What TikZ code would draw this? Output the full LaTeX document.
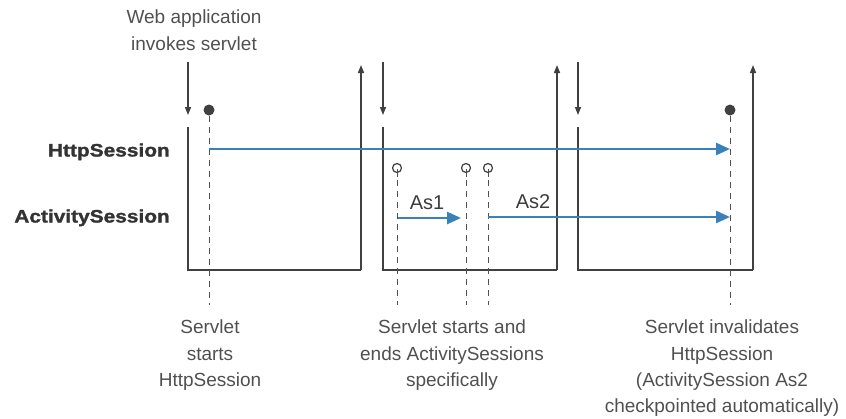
\documentclass[tikz,border=0pt]{standalone}
\usepackage{fontspec}
\setmainfont{Liberation Sans}
\newfontfamily\blk[FakeStretch=1.16,FakeBold=1.5]{Liberation Sans}
\usetikzlibrary{arrows.meta}
\definecolor{txt}{RGB}{80,80,80}
\definecolor{lin}{RGB}{64,64,64}
\definecolor{blu}{RGB}{58,128,185}
\begin{document}
\begin{tikzpicture}[x=1pt,y=-1pt,
  lbl/.style={inner sep=0pt,text=txt,align=center,font=\fontsize{19}{26.3}\selectfont},
  rowlbl/.style={inner sep=0pt,text={rgb,255:red,51;green,51;blue,51},font=\blk\bfseries\fontsize{18}{20}\selectfont},
  aslbl/.style={inner sep=0pt,text={rgb,255:red,60;green,60;blue,60},font=\fontsize{20}{22}\selectfont},
  frame/.style={draw=lin,line width=1.5pt},
  flow/.style={draw=lin,line width=1.4pt,-{Triangle[length=8pt,width=6pt]}},
  sess/.style={draw=blu,line width=2.6pt,-{Triangle[length=14pt,width=12pt]}},
  guide/.style={draw=txt,line width=1pt,dash pattern=on 6pt off 5pt},
  fdot/.style={circle,fill=lin,inner sep=0pt,minimum size=11pt},
  odot/.style={circle,draw=lin,fill=white,line width=1.2pt,inner sep=0pt,minimum size=9pt}]
\useasboundingbox (0,0) rectangle (846,418);

% top text
\node[lbl,anchor=north] (web) at (194,10) {Web application\\invokes servlet};

% row labels
\node[rowlbl,anchor=base east] (http) at (170,156.5) {HttpSession};
\node[rowlbl,anchor=base east] (act) at (170,222.5) {ActivitySession};

% frames
\coordinate (d1s) at (188,62); \coordinate (d1e) at (188,115);
\coordinate (b1tl) at (188,127); \coordinate (b1bl) at (188,270);
\coordinate (b1br) at (361,270); \coordinate (b1tr) at (361,65);
\coordinate (d2s) at (383,62); \coordinate (d2e) at (383,115);
\coordinate (b2tl) at (383,127); \coordinate (b2bl) at (383,270);
\coordinate (b2br) at (557,270); \coordinate (b2tr) at (557,65);
\coordinate (d3s) at (578,62); \coordinate (d3e) at (578,115);
\coordinate (b3tl) at (578,127); \coordinate (b3bl) at (578,270);
\coordinate (b3br) at (753,270); \coordinate (b3tr) at (753,65);

\draw[flow] (d1s) -- (d1e);
\draw[frame] (b1tl) -- (b1bl) -- (b1br);
\draw[flow,line width=1.5pt] (b1br) -- (b1tr);
\draw[flow] (d2s) -- (d2e);
\draw[frame] (b2tl) -- (b2bl) -- (b2br);
\draw[flow,line width=1.5pt] (b2br) -- (b2tr);
\draw[flow] (d3s) -- (d3e);
\draw[frame] (b3tl) -- (b3bl) -- (b3br);
\draw[flow,line width=1.5pt] (b3br) -- (b3tr);

% event markers
\node[fdot] (start) at (209,110) {};
\node[fdot] (inval) at (730,110) {};
\node[odot] (o1) at (397,168) {};
\node[odot] (o2) at (466,168) {};
\node[odot] (o3) at (488,168) {};

\coordinate (g1) at (209,305);
\coordinate (g2) at (397,305);
\coordinate (g3) at (466,305);
\coordinate (g4) at (488,305);
\coordinate (g5) at (730,305);
\draw[guide] (start.south) -- (g1);
\draw[guide] (inval.south) -- (g5);
\draw[draw=txt,line width=1pt] (o1.south) -- ++(0,4);
\draw[draw=txt,line width=1pt] (o2.south) -- ++(0,4);
\draw[draw=txt,line width=1pt] (o3.south) -- ++(0,4);
\draw[guide] ([yshift=4pt]o1.south) -- (g2);
\draw[guide] ([yshift=4pt]o2.south) -- (g3);
\draw[guide] ([yshift=4pt]o3.south) -- (g4);

% session arrows
\coordinate (hs) at (209,149); \coordinate (he) at (730,149);
\coordinate (a1s) at (398,218); \coordinate (a1e) at (461,218);
\coordinate (a2s) at (488,217); \coordinate (a2e) at (730,217);
\draw[sess] (hs) -- (he);
\draw[sess] (a1s) -- (a1e);
\draw[sess] (a2s) -- (a2e);

\node[aslbl,anchor=base] (as1) at (427,209) {As1};
\node[aslbl,anchor=base] (as2) at (533,208) {As2};

% bottom captions
\node[lbl,anchor=north] (c1) at (210,320) {Servlet\\starts\\HttpSession};
\node[lbl,anchor=north] (c2) at (452,320) {Servlet starts and\\ends ActivitySessions\\specifically};
\node[lbl,anchor=north] (c3) at (722,320) {Servlet invalidates\\HttpSession\\(ActivitySession As2\\checkpointed automatically)};
\end{tikzpicture}
\end{document}
